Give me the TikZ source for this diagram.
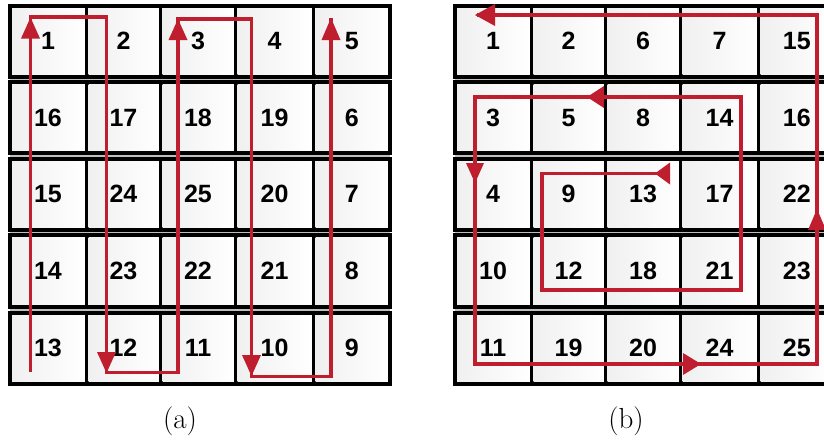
\documentclass[tikz,border=0pt]{standalone}
\usepackage{fontspec}
\newfontfamily\numfont{Liberation Sans}
\definecolor{arrowred}{RGB}{190,30,45}
\def\rowB{{2.75,79.5,156,232.5,310,386.25}}
\def\colE{{9.5,86.5,160.5,235.5,313.5,390}}
\tikzset{
  cellnum/.style={font=\numfont\bfseries\fontsize{25}{25}\selectfont, inner sep=0pt, anchor=center},
  gridline/.style={line width=4pt, draw=black},
  gapline/.style={line width=1.5pt, draw=black!25},
  cellshade/.style={left color=black!6, middle color=white, right color=white},
  redpath/.style={draw=arrowred, line width=3.5pt, line join=miter},
  tipfill/.style={fill=arrowred},
  caption/.style={font=\fontsize{29}{29}\selectfont, inner sep=0pt}
}
\newcommand\drawcells[3]{%
  \foreach \rowvals [count=\r from 0] in {#3} {
    \pgfmathsetmacro\yt{\rowB[\r]+2.75}
    \pgfmathsetmacro\yb{\rowB[\r+1]-2.75}
    \pgfmathsetmacro\xl{\colE[0]+#2}
    \pgfmathsetmacro\xr{\colE[5]+#2}
    \pgfmathsetmacro\yg{\rowB[\r]}
    \ifnum\r>0 \draw[gapline] (\xl,\yg) -- (\xr,\yg); \fi
    \foreach \v [count=\c from 0] in \rowvals {
      \pgfmathsetmacro\ca{\colE[\c]+#2}
      \pgfmathsetmacro\cb{\colE[\c+1]+#2}
      \shade[cellshade] (\ca+2,\yt+2) rectangle (\cb-2,\yb-2);
      \node[cellnum] (#1-\r-\c) at ({(\ca+\cb)/2},{(\yt+\yb)/2}) {\v};
      \draw[gridline] (\cb,\yt) -- (\cb,\yb);
    }
    \draw[gridline] (\xl,\yt) rectangle (\xr,\yb);
  }
}
\begin{document}
\begin{tikzpicture}[x=1pt,y=-1pt]
\useasboundingbox (0,0) rectangle (824,439);
\clip (0,0) rectangle (824,439);
\fill[white] (0,0) rectangle (824,439);
% grids
\drawcells{a}{0}{{1,2,3,4,5},{16,17,18,19,6},{15,24,25,20,7},{14,23,22,21,8},{13,12,11,10,9}}
\drawcells{b}{445}{{1,2,6,7,15},{3,5,8,14,16},{4,9,13,17,22},{10,12,18,21,23},{11,19,20,24,25}}
% path (a)
\coordinate (pa0) at (30.5,372);
\coordinate (pa1) at (30.5,17);
\coordinate (pa2) at (106.5,17);
\coordinate (pa3) at (106.5,372.5);
\coordinate (pa4) at (178,372.5);
\coordinate (pa5) at (178,19);
\coordinate (pa6) at (251.5,19);
\coordinate (pa7) at (251.5,376.5);
\coordinate (pa8) at (331,376.5);
\coordinate (pa9) at (331,18);
\draw[redpath] (pa0) -- (pa1) -- (pa2) -- (pa3) -- (pa4) -- (pa5) -- (pa6) -- (pa7) -- (pa8) -- (pa9);
\fill[tipfill] (30.5,17.5) -- (21,38.5) -- (40,38.5) -- cycle;
\fill[tipfill] (106.5,373) -- (97,352) -- (116,352) -- cycle;
\fill[tipfill] (178,19) -- (168.5,40) -- (187.5,40) -- cycle;
\fill[tipfill] (251.5,376) -- (242,355) -- (261,355) -- cycle;
\fill[tipfill] (331,18) -- (321.5,40) -- (340.5,40) -- cycle;
% path (b)
\coordinate (pb0) at (670,173.5);
\coordinate (pb1) at (542,173.5);
\coordinate (pb2) at (542,290);
\coordinate (pb3) at (741,290);
\coordinate (pb4) at (741,97);
\coordinate (pb5) at (475,97);
\coordinate (pb6) at (475,364);
\coordinate (pb7) at (817,364);
\coordinate (pb8) at (817,15);
\coordinate (pb9) at (477,15);
\draw[redpath] (pb0) -- (pb1) -- (pb2) -- (pb3) -- (pb4) -- (pb5) -- (pb6) -- (pb7) -- (pb8) -- (pb9);
\fill[tipfill] (475,15) -- (495,4) -- (495,26) -- cycle;
\fill[tipfill] (587,97) -- (604,86) -- (604,108) -- cycle;
\fill[tipfill] (475,183) -- (466,163) -- (484,163) -- cycle;
\fill[tipfill] (701,364) -- (683,353) -- (683,375) -- cycle;
\fill[tipfill] (817,209) -- (808,230) -- (826,230) -- cycle;
\fill[tipfill] (655,173.5) -- (670,162.5) -- (670,184.5) -- cycle;
% captions
\node[caption] (capa) at (180,421) {(a)};
\node[caption] (capb) at (626,421) {(b)};
\end{tikzpicture}
\end{document}
